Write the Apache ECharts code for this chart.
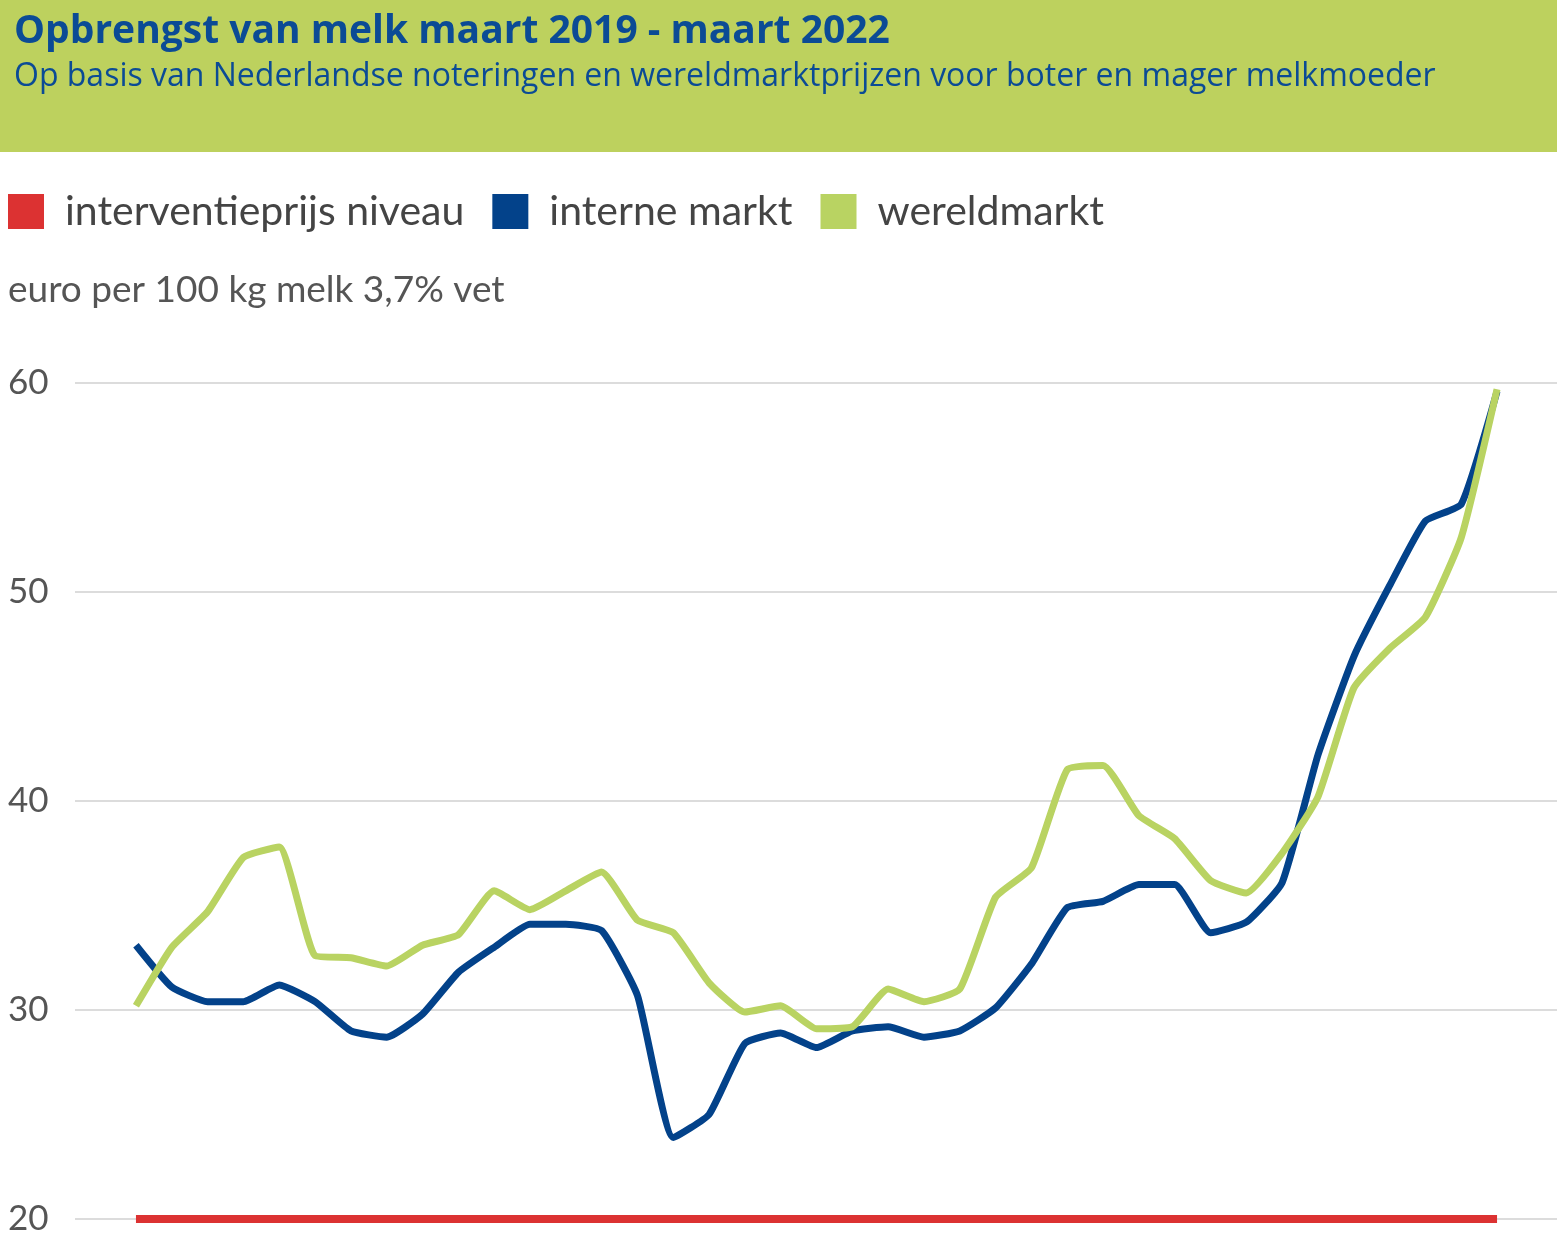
<!DOCTYPE html>
<html>
<head>
<meta charset="utf-8">
<script src="https://cdn.jsdelivr.net/npm/echarts@6/dist/echarts.min.js"></script>
<style>
  html, body { margin: 0; padding: 0; background: #fff; }
  #chart { width: 1557px; height: 1241px; }
</style>
</head>
<body>
<div id="chart"></div>
<script>
// periods (x axis is not labelled in the original)
const periods = [
  'jan 19','feb 19','mrt 19','apr 19','mei 19','jun 19','jul 19','aug 19','sep 19','okt 19','nov 19','dec 19',
  'jan 20','feb 20','mrt 20','apr 20','mei 20','jun 20','jul 20','aug 20','sep 20','okt 20','nov 20','dec 20',
  'jan 21','feb 21','mrt 21','apr 21','mei 21','jun 21','jul 21','aug 21','sep 21','okt 21','nov 21','dec 21',
  'jan 22','feb 22','mrt 22'
];
const interneMarkt = [
  33.1, 31.1, 30.4, 30.4, 31.2, 30.4, 29.0, 28.7, 29.8, 31.8, 33.0, 34.1, 34.1,
  33.8, 30.7, 23.9, 25.0, 28.4, 28.9, 28.2, 29.0, 29.2, 28.7, 29.0, 30.1, 32.2,
  34.9, 35.2, 36.0, 36.0, 33.7, 34.2, 36.1, 42.2, 46.9, 50.3, 53.4, 54.2, 59.6
];
const wereldmarkt = [
  30.2, 33.0, 34.7, 37.3, 37.8, 32.6, 32.5, 32.1, 33.1, 33.6, 35.7, 34.8, 35.7,
  36.6, 34.3, 33.7, 31.3, 29.9, 30.2, 29.1, 29.2, 31.0, 30.4, 31.0, 35.4, 36.8,
  41.5, 41.7, 39.3, 38.2, 36.2, 35.6, 37.5, 40.2, 45.4, 47.3, 48.8, 52.6, 59.7
];
const interventieprijs = periods.map(() => 20);
const yTicks = [20, 30, 40, 50, 60];

const toPairs = arr => arr.map((v, i) => [i, v]);

const chart = echarts.init(document.getElementById('chart'));
chart.setOption({
  animation: false,
  backgroundColor: '#fff',
  graphic: [
    { type: 'rect', left: 0, top: 0, shape: { width: 1557, height: 152 }, style: { fill: '#bdd15e' } },
    { type: 'text', left: 14, top: 12,
      style: { text: 'Opbrengst van melk maart 2019 - maart 2022', font: 'bold 39px "Open Sans"', fill: '#0b4b95' } },
    { type: 'text', left: 14, top: 61,
      style: { text: 'Op basis van Nederlandse noteringen en wereldmarktprijzen voor boter en mager melkmoeder',
        font: '32px "Open Sans"', fill: '#0b4b95' } },
    { type: 'text', left: 8, top: 272,
      style: { text: 'euro per 100 kg melk 3,7% vet', font: '37px Lato', fill: '#555' } }
  ],
  legend: {
    left: 8, top: 191,
    padding: 0,
    icon: 'rect',
    itemWidth: 36, itemHeight: 35,
    itemGap: 28,
    textStyle: { fontFamily: 'Lato', fontSize: 41, color: '#444', padding: [0, 0, 0, 16] },
    data: ['interventieprijs niveau', 'interne markt', 'wereldmarkt']
  },
  grid: { left: 75, right: 0, top: 383, bottom: 22 },
  xAxis: {
    type: 'value',
    min: -1.702, max: 39.674,
    show: false
  },
  yAxis: {
    type: 'value',
    min: yTicks[0], max: yTicks[yTicks.length - 1], interval: 10,
    axisLine: { show: false }, axisTick: { show: false },
    axisLabel: { fontFamily: 'Lato', fontSize: 35, color: '#555', align: 'left', margin: 67 },
    splitLine: { lineStyle: { color: '#dcdcdc', width: 2 } }
  },
  series: [
    { name: 'interventieprijs niveau', type: 'line', data: toPairs(interventieprijs), showSymbol: false,
      color: '#dc3232', lineStyle: { width: 8, cap: 'butt' }, z: 3 },
    { name: 'interne markt', type: 'line', data: toPairs(interneMarkt), showSymbol: false, smooth: 0.15,
      color: '#03428a', lineStyle: { width: 7, join: 'round' }, z: 4 },
    { name: 'wereldmarkt', type: 'line', data: toPairs(wereldmarkt), showSymbol: false, smooth: 0.15,
      color: '#b9d362', lineStyle: { width: 7, join: 'round' }, z: 5 }
  ]
});
</script>
</body>
</html>
